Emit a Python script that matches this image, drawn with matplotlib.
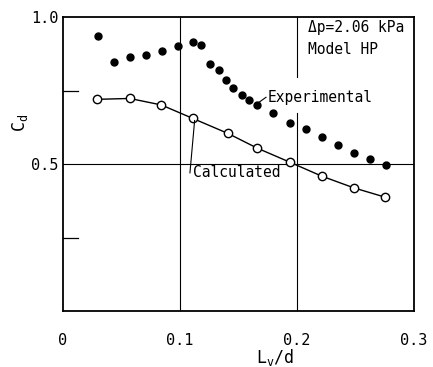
import matplotlib
matplotlib.use("Agg")
import matplotlib.pyplot as plt

plt.rcParams['font.family'] = ['DejaVu Sans Mono']

exp_x = [0.0297, 0.0436, 0.0575, 0.0707, 0.0846, 0.0983, 0.1114, 0.1182, 0.1254, 0.133,
         0.139, 0.1456, 0.1527, 0.1593, 0.166, 0.1798, 0.1937, 0.208, 0.2216, 0.235,
         0.2487, 0.262, 0.276]
exp_y = [0.935, 0.847, 0.863, 0.870, 0.884, 0.900, 0.914, 0.905, 0.841, 0.820,
         0.787, 0.760, 0.735, 0.717, 0.702, 0.672, 0.639, 0.620, 0.591, 0.565,
         0.538, 0.516, 0.498]
calc_x = [0.029, 0.057, 0.084, 0.111, 0.141, 0.166, 0.194, 0.221, 0.2485, 0.2755]
calc_y = [0.720, 0.723, 0.701, 0.655, 0.604, 0.554, 0.506, 0.459, 0.419, 0.387]

xticks = [0, 0.1, 0.2, 0.3]
xticklabels = ['0', '0.1', '0.2', '0.3']
yticks = [0.5, 1.0]
yticklabels = ['0.5', '1.0']
minor_yticks = [0.25, 0.75]

fig = plt.figure(figsize=(4.33, 3.67), dpi=100)
ax = fig.add_axes([0.1455, 0.1526, 0.8106, 0.801])
ax.set_xlim(0, 0.3)
ax.set_ylim(0, 1.0)

# grid lines
ax.axvline(0.1, color='black', lw=0.8, zorder=1)
ax.axvline(0.2, ymin=0.0, ymax=0.673, color='black', lw=0.8, zorder=1)
ax.axvline(0.2, ymin=0.796, ymax=1.0, color='black', lw=0.8, zorder=1)
ax.axhline(0.5, color='black', lw=0.8, zorder=1)

ax.plot(exp_x, exp_y, 'o', color='black', markersize=5, zorder=3)
ax.plot(calc_x, calc_y, '-o', color='black', lw=1.0, markersize=6,
        markerfacecolor='white', markeredgecolor='black', markeredgewidth=1.0, zorder=3)

ax.set_xticks(xticks)
ax.set_xticklabels(xticklabels, fontsize=11)
ax.set_yticks(yticks)
ax.set_yticklabels(yticklabels, fontsize=11)
ax.tick_params(axis='x', length=0, pad=16)
ax.tick_params(axis='y', length=0, pad=3)
for my in minor_yticks:
    ax.plot([0, 0.013], [my, my], color='black', lw=0.9, clip_on=False)

for s in ax.spines.values():
    s.set_linewidth(1.3)

# annotations
ax.text(0.209, 0.965, 'Δp=2.06 kPa', fontsize=10.5, ha='left', va='center', zorder=4)
ax.text(0.209, 0.89, 'Model HP', fontsize=10.5, ha='left', va='center', zorder=4)
ax.text(0.175, 0.725, 'Experimental', fontsize=10.5, ha='left', va='center', zorder=4)
ax.plot([0.1665, 0.1735], [0.707, 0.727], color='black', lw=0.8, zorder=4)
ax.plot([0.1125, 0.1085], [0.648, 0.47], color='black', lw=0.8, zorder=4)
ax.text(0.1115, 0.47, 'Calculated', fontsize=10.5, ha='left', va='center', zorder=4)

fig.text(0.047, 0.665, r'C$_\mathregular{d}$', fontsize=12, rotation=90, ha='center', va='center')
fig.text(0.635, 0.027, r'L$_\mathregular{v}$/d', fontsize=12, ha='center', va='center')

fig.savefig('out.png', dpi=100)
